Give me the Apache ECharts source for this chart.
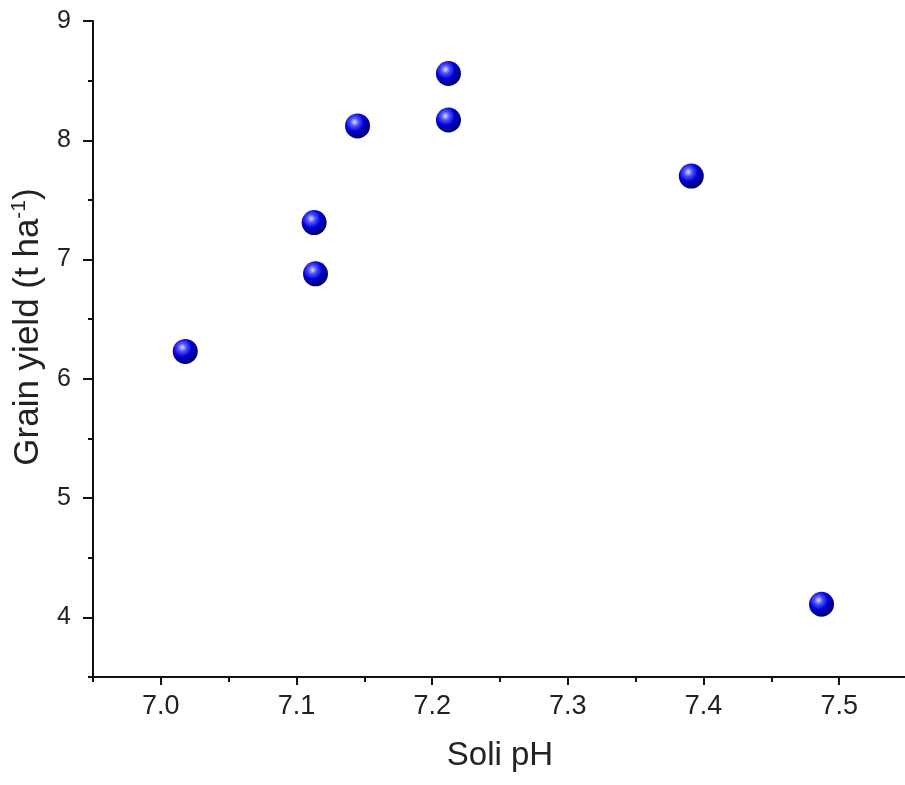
<!DOCTYPE html>
<html>
<head>
<meta charset="utf-8">
<script src="https://cdn.jsdelivr.net/npm/echarts@6/dist/echarts.min.js"></script>
<style>
  html, body { margin: 0; padding: 0; background: #fff; }
  #main { width: 905px; height: 785px; }
</style>
</head>
<body>
<div id="main"></div>
<script type="text/javascript">
  // values
  var soilPH = [7.018, 7.113, 7.114, 7.145, 7.212, 7.212, 7.391, 7.487];
  var grainYield = [6.23, 7.31, 6.88, 8.12, 8.56, 8.17, 7.70, 4.11];

  var xMajor = [7.0, 7.1, 7.2, 7.3, 7.4, 7.5];
  var xMinor = [6.95, 7.05, 7.15, 7.25, 7.35, 7.45, 7.55];
  var yMajor = [4, 5, 6, 7, 8, 9];
  var yMinor = [3.5, 4.5, 5.5, 6.5, 7.5, 8.5];

  var font = '"Liberation Sans", Arial, sans-serif';
  var textColor = '#222';

  var points = soilPH.map(function (v, i) {
    return [v, grainYield[i]];
  });

  var sphere = {
    type: 'radial', x: 0.38, y: 0.34, r: 0.68,
    colorStops: [
      { offset: 0, color: '#dcdcff' },
      { offset: 0.25, color: '#5050ff' },
      { offset: 0.55, color: '#0000d2' },
      { offset: 1, color: '#000066' }
    ]
  };

  var chart = echarts.init(document.getElementById('main'));
  chart.setOption({
    animation: false,
    backgroundColor: '#fff',
    grid: { left: 93, top: 21, width: 814, height: 656, outerBoundsMode: 'none', containLabel: false },
    xAxis: [{
      type: 'value', min: 6.95, max: 7.55, position: 'bottom',
      name: 'Soli pH', nameLocation: 'middle', nameGap: 62,
      nameTextStyle: { fontFamily: font, fontSize: 33, color: textColor },
      axisLine: { lineStyle: { color: '#111', width: 2 } },
      axisTick: { customValues: xMajor, length: 8, inside: false, lineStyle: { color: '#111', width: 2 } },
      axisLabel: {
        customValues: xMajor, margin: 16, fontFamily: font, fontSize: 27, color: textColor,
        formatter: function (v) { return v.toFixed(1); }
      },
      splitLine: { show: false }
    }, {
      type: 'value', min: 6.95, max: 7.55, position: 'bottom',
      axisLine: { show: false },
      axisTick: { customValues: xMinor, length: 5, lineStyle: { color: '#111', width: 2 } },
      axisLabel: { show: false },
      splitLine: { show: false }
    }],
    yAxis: [{
      type: 'value', min: 3.5, max: 9, position: 'left',
      name: '{a|Grain yield (t ha}{s|-1}{a|)}', nameLocation: 'middle', nameGap: 46,
      nameTextStyle: {
        padding: [0, 0, 0, 44],
        rich: {
          a: { fontFamily: font, fontSize: 35, color: textColor, lineHeight: 38 },
          s: { fontFamily: font, fontSize: 21, color: textColor, lineHeight: 21, verticalAlign: 'top' }
        }
      },
      axisLine: { lineStyle: { color: '#111', width: 2 } },
      axisTick: { customValues: yMajor, length: 10, lineStyle: { color: '#111', width: 2 } },
      axisLabel: { customValues: yMajor, margin: 22, fontFamily: font, fontSize: 25, color: textColor },
      splitLine: { show: false }
    }, {
      type: 'value', min: 3.5, max: 9, position: 'left',
      axisLine: { show: false },
      axisTick: { customValues: yMinor, length: 5, lineStyle: { color: '#111', width: 2 } },
      axisLabel: { show: false },
      splitLine: { show: false }
    }],
    series: [{
      type: 'scatter',
      xAxisIndex: 0, yAxisIndex: 0,
      data: points,
      symbol: 'circle',
      symbolSize: 25,
      itemStyle: { color: sphere, opacity: 1 }
    }]
  });
</script>
</body>
</html>
